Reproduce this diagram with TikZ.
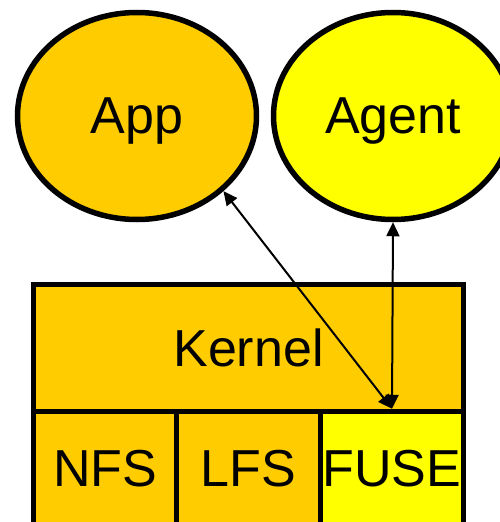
\documentclass[tikz,border=0pt]{standalone}
\usepackage{fontspec}
\setmainfont{Liberation Sans}
\usetikzlibrary{shapes.geometric,arrows.meta}
\definecolor{orangefill}{HTML}{FFCC00}
\definecolor{yellowfill}{HTML}{FFFF00}
\tikzset{
  bubble/.style={ellipse, draw=black, line width=5.5pt, minimum width=239pt, minimum height=207pt, inner sep=0pt, text depth=0pt, font=\fontsize{52}{60}\selectfont},
  layerbox/.style={rectangle, draw=black, line width=5.5pt, inner sep=0pt, text depth=0pt, font=\fontsize{52}{60}\selectfont},
  link/.style={line width=2pt, {Triangle[length=14pt,width=13pt]}-{Triangle[length=14pt,width=13pt]}}
}
\begin{document}
\begin{tikzpicture}[x=1pt,y=-1pt]
\useasboundingbox (0,0) rectangle (500,522);
\clip (0,0) rectangle (500,522);
\fill[white] (0,0) rectangle (500,522);
\node[bubble, fill=orangefill] (App) at (137,116) {App};
\node[bubble, fill=yellowfill] (Agent) at (393,116) {Agent};
\node[layerbox, fill=orangefill, minimum width=430pt, minimum height=127pt] (Kernel) at (248.5,348) {Kernel};
\node[layerbox, fill=orangefill, minimum width=143pt, minimum height=114pt] (NFS) at (105,468.5) {NFS};
\node[layerbox, fill=orangefill, minimum width=144pt, minimum height=114pt] (LFS) at (248.5,468.5) {LFS};
\node[layerbox, fill=yellowfill, minimum width=143pt, minimum height=114pt] (FUSE) at (392,468.5) {FUSE};
\draw[link] (App.south east) -- (FUSE.north);
\draw[link] (Agent.south) -- (FUSE.north);
\end{tikzpicture}
\end{document}
